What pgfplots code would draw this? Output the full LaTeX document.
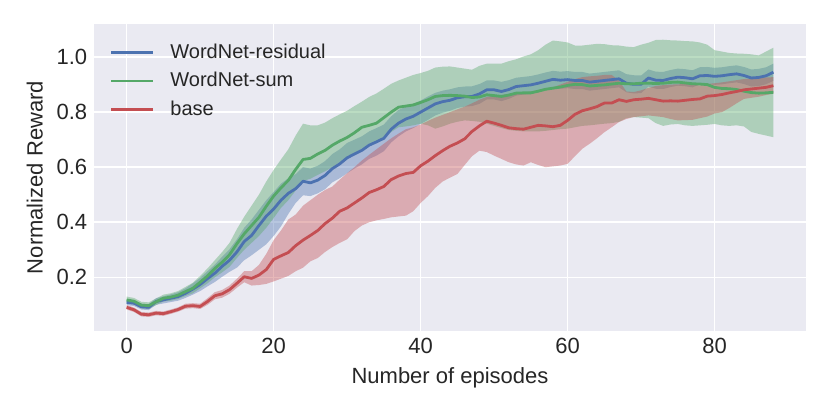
\documentclass[border=0pt]{standalone}
\usepackage{fontspec}
\setmainfont{Liberation Sans}
\usepackage{pgfplots}
\pgfplotsset{compat=1.18}
\usepackage{pgfplotstable}
\usepgfplotslibrary{fillbetween}
\definecolor{sbblue}{HTML}{4C72B0}
\definecolor{sbgreen}{HTML}{55A868}
\definecolor{sbred}{HTML}{C44E52}
\definecolor{sbbg}{HTML}{EAEAF2}
\definecolor{sbtext}{HTML}{262626}

\pgfplotstableread{
x m lo hi
0 0.109 0.099 0.120
1 0.106 0.096 0.117
2 0.093 0.083 0.104
3 0.091 0.081 0.102
4 0.112 0.100 0.124
5 0.118 0.105 0.131
6 0.124 0.110 0.138
7 0.130 0.115 0.146
8 0.142 0.125 0.160
9 0.157 0.137 0.178
10 0.174 0.150 0.198
11 0.195 0.167 0.222
12 0.215 0.183 0.246
13 0.240 0.202 0.275
14 0.262 0.220 0.302
15 0.292 0.235 0.338
16 0.330 0.262 0.380
17 0.352 0.280 0.410
18 0.388 0.300 0.445
19 0.422 0.320 0.480
20 0.448 0.350 0.510
21 0.480 0.385 0.540
22 0.505 0.430 0.560
23 0.522 0.470 0.575
24 0.549 0.498 0.600
25 0.543 0.495 0.595
26 0.553 0.505 0.605
27 0.570 0.520 0.622
28 0.595 0.545 0.648
29 0.612 0.560 0.665
30 0.634 0.578 0.688
31 0.648 0.595 0.700
32 0.661 0.610 0.712
33 0.680 0.630 0.730
34 0.692 0.642 0.742
35 0.705 0.658 0.755
36 0.738 0.690 0.785
37 0.760 0.712 0.808
38 0.775 0.730 0.820
39 0.785 0.742 0.830
40 0.800 0.757 0.842
41 0.815 0.772 0.857
42 0.830 0.788 0.870
43 0.838 0.798 0.878
44 0.843 0.805 0.883
45 0.852 0.815 0.890
46 0.856 0.820 0.893
47 0.857 0.822 0.894
48 0.866 0.830 0.902
49 0.881 0.846 0.915
50 0.881 0.846 0.915
51 0.875 0.840 0.910
52 0.882 0.848 0.916
53 0.893 0.860 0.925
54 0.896 0.864 0.928
55 0.899 0.867 0.931
56 0.905 0.874 0.937
57 0.912 0.881 0.944
58 0.919 0.888 0.950
59 0.916 0.885 0.947
60 0.918 0.887 0.949
61 0.915 0.884 0.946
62 0.915 0.884 0.946
63 0.909 0.878 0.940
64 0.912 0.881 0.943
65 0.915 0.884 0.946
66 0.918 0.887 0.949
67 0.921 0.890 0.952
68 0.905 0.872 0.938
69 0.901 0.868 0.934
70 0.901 0.869 0.933
71 0.924 0.893 0.955
72 0.916 0.885 0.947
73 0.915 0.884 0.946
74 0.922 0.891 0.953
75 0.927 0.896 0.958
76 0.925 0.894 0.956
77 0.921 0.890 0.952
78 0.932 0.901 0.963
79 0.933 0.902 0.964
80 0.930 0.899 0.961
81 0.932 0.901 0.963
82 0.936 0.905 0.967
83 0.939 0.908 0.970
84 0.933 0.902 0.964
85 0.924 0.893 0.955
86 0.926 0.895 0.957
87 0.932 0.901 0.963
88 0.945 0.914 0.976
}\tblblue

\pgfplotstableread{
x m lo hi
0 0.118 0.106 0.130
1 0.113 0.101 0.125
2 0.099 0.087 0.111
3 0.097 0.085 0.109
4 0.111 0.099 0.123
5 0.124 0.112 0.137
6 0.128 0.115 0.142
7 0.135 0.121 0.150
8 0.148 0.132 0.165
9 0.160 0.142 0.180
10 0.182 0.160 0.205
11 0.205 0.178 0.232
12 0.232 0.200 0.262
13 0.255 0.218 0.292
14 0.282 0.238 0.325
15 0.322 0.270 0.375
16 0.358 0.300 0.420
17 0.388 0.325 0.460
18 0.418 0.350 0.500
19 0.458 0.380 0.548
20 0.495 0.415 0.590
21 0.525 0.452 0.628
22 0.552 0.480 0.665
23 0.592 0.515 0.715
24 0.628 0.550 0.758
25 0.632 0.558 0.752
26 0.648 0.572 0.752
27 0.661 0.585 0.762
28 0.680 0.600 0.778
29 0.695 0.618 0.792
30 0.708 0.634 0.805
31 0.725 0.650 0.822
32 0.745 0.668 0.838
33 0.752 0.680 0.855
34 0.760 0.692 0.868
35 0.780 0.710 0.885
36 0.800 0.728 0.903
37 0.818 0.745 0.915
38 0.822 0.748 0.925
39 0.826 0.752 0.935
40 0.835 0.758 0.942
41 0.845 0.752 0.950
42 0.857 0.740 0.962
43 0.860 0.748 0.965
44 0.861 0.758 0.966
45 0.860 0.765 0.962
46 0.858 0.770 0.958
47 0.853 0.768 0.954
48 0.855 0.765 0.968
49 0.863 0.758 0.976
50 0.860 0.750 0.976
51 0.857 0.742 0.976
52 0.862 0.735 0.985
53 0.869 0.732 0.992
54 0.870 0.730 1.002
55 0.870 0.730 1.010
56 0.876 0.730 1.025
57 0.883 0.732 1.045
58 0.887 0.735 1.060
59 0.891 0.738 1.057
60 0.897 0.740 1.053
61 0.901 0.745 1.042
62 0.900 0.750 1.042
63 0.895 0.752 1.045
64 0.897 0.755 1.048
65 0.899 0.758 1.047
66 0.902 0.760 1.043
67 0.905 0.765 1.042
68 0.903 0.778 1.038
69 0.903 0.782 1.036
70 0.905 0.780 1.045
71 0.905 0.778 1.052
72 0.904 0.760 1.062
73 0.905 0.750 1.063
74 0.908 0.755 1.061
75 0.909 0.757 1.060
76 0.906 0.752 1.058
77 0.903 0.750 1.057
78 0.902 0.752 1.053
79 0.900 0.754 1.045
80 0.890 0.757 1.025
81 0.886 0.752 1.020
82 0.885 0.750 1.015
83 0.882 0.752 1.013
84 0.876 0.748 1.012
85 0.871 0.728 1.010
86 0.869 0.721 1.006
87 0.870 0.715 1.020
88 0.872 0.709 1.034
}\tblgreen

\pgfplotstableread{
x m lo hi
0 0.091 0.083 0.099
1 0.082 0.074 0.090
2 0.066 0.058 0.074
3 0.064 0.056 0.072
4 0.070 0.062 0.078
5 0.068 0.060 0.076
6 0.075 0.067 0.083
7 0.083 0.075 0.091
8 0.095 0.086 0.104
9 0.097 0.088 0.106
10 0.094 0.085 0.104
11 0.112 0.100 0.124
12 0.133 0.120 0.146
13 0.140 0.126 0.154
14 0.155 0.140 0.170
15 0.178 0.162 0.195
16 0.202 0.182 0.222
17 0.196 0.170 0.222
18 0.208 0.172 0.245
19 0.228 0.176 0.285
20 0.265 0.185 0.335
21 0.278 0.195 0.370
22 0.290 0.205 0.410
23 0.315 0.222 0.428
24 0.335 0.235 0.460
25 0.352 0.258 0.480
26 0.370 0.270 0.500
27 0.395 0.292 0.517
28 0.415 0.310 0.530
29 0.440 0.325 0.555
30 0.452 0.338 0.578
31 0.470 0.368 0.600
32 0.488 0.388 0.624
33 0.508 0.400 0.645
34 0.518 0.407 0.665
35 0.530 0.412 0.685
36 0.555 0.418 0.705
37 0.568 0.421 0.722
38 0.577 0.424 0.738
39 0.581 0.440 0.745
40 0.605 0.470 0.755
41 0.622 0.495 0.768
42 0.642 0.525 0.780
43 0.660 0.548 0.790
44 0.676 0.562 0.800
45 0.688 0.575 0.810
46 0.703 0.608 0.820
47 0.730 0.640 0.832
48 0.750 0.660 0.845
49 0.767 0.655 0.855
50 0.760 0.642 0.860
51 0.752 0.630 0.862
52 0.743 0.618 0.865
53 0.740 0.610 0.868
54 0.738 0.606 0.870
55 0.745 0.618 0.875
56 0.752 0.608 0.880
57 0.750 0.600 0.885
58 0.747 0.603 0.890
59 0.752 0.606 0.900
60 0.770 0.612 0.910
61 0.792 0.640 0.920
62 0.805 0.667 0.927
63 0.812 0.685 0.930
64 0.820 0.705 0.932
65 0.833 0.727 0.935
66 0.833 0.745 0.935
67 0.845 0.764 0.915
68 0.839 0.775 0.875
69 0.845 0.782 0.873
70 0.847 0.785 0.879
71 0.850 0.788 0.888
72 0.845 0.785 0.895
73 0.840 0.782 0.898
74 0.841 0.775 0.900
75 0.840 0.770 0.901
76 0.843 0.771 0.902
77 0.846 0.772 0.900
78 0.848 0.778 0.897
79 0.858 0.784 0.902
80 0.860 0.795 0.905
81 0.864 0.800 0.908
82 0.870 0.815 0.912
83 0.875 0.832 0.916
84 0.881 0.848 0.920
85 0.884 0.852 0.922
86 0.887 0.856 0.925
87 0.890 0.862 0.926
88 0.896 0.867 0.927
}\tblred

\begin{document}
\begin{tikzpicture}
\begin{axis}[
  scale only axis,
  width=355.7pt, height=153.2pt,
  xmin=-4.4, xmax=92.4, ymin=0.006, ymax=1.119,
  axis background/.style={fill=sbbg},
  axis line style={draw=none},
  grid=major,
  major grid style={white, line width=0.8pt},
  major tick length=0pt,
  xtick={0,20,40,60,80},
  ytick={0.2,0.4,0.6,0.8,1.0},
  y tick label style={/pgf/number format/fixed, /pgf/number format/fixed zerofill, /pgf/number format/precision=1},
  /pgf/number format/assume math mode=true,
  tick label style={font=\fontsize{11}{13}\selectfont, text=sbtext},
  label style={font=\fontsize{11}{13}\selectfont, text=sbtext},
  xlabel={Number of episodes},
  ylabel={Normalized Reward},
  legend style={at={(axis description cs:0,1)}, anchor=north west, xshift=4.5pt, yshift=-5.5pt,
    draw=none, fill=none, font=\fontsize{10}{12}\selectfont, text=sbtext,
    row sep=1.5pt, /tikz/every odd column/.append style={column sep=6pt}},
  legend cell align=left,
  legend image code/.code={\draw[#1, line width=1.35pt] (0pt,0pt) -- (21pt,0pt);},
]
% bands
\addplot[draw=none, name path=bh, forget plot] table[x=x,y=hi]{\tblblue};
\addplot[draw=none, name path=bl, forget plot] table[x=x,y=lo]{\tblblue};
\addplot[fill=sbblue, fill opacity=0.4, draw=none, forget plot] fill between[of=bh and bl];
\addplot[draw=none, name path=gh, forget plot] table[x=x,y=hi]{\tblgreen};
\addplot[draw=none, name path=gl, forget plot] table[x=x,y=lo]{\tblgreen};
\addplot[fill=sbgreen, fill opacity=0.4, draw=none, forget plot] fill between[of=gh and gl];
\addplot[draw=none, name path=rh, forget plot] table[x=x,y=hi]{\tblred};
\addplot[draw=none, name path=rl, forget plot] table[x=x,y=lo]{\tblred};
\addplot[fill=sbred, fill opacity=0.4, draw=none, forget plot] fill between[of=rh and rl];
% lines
\addplot[sbblue, line width=1.4pt, line join=round] table[x=x,y=m]{\tblblue};
\addlegendentry{WordNet-residual}
\addplot[sbgreen, line width=1.4pt, line join=round] table[x=x,y=m]{\tblgreen};
\addlegendentry{WordNet-sum}
\addplot[sbred, line width=1.4pt, line join=round] table[x=x,y=m]{\tblred};
\addlegendentry{base}
\end{axis}
\pgfresetboundingbox
\path[use as bounding box] ([shift={(-47.15pt,-42.15pt)}]current axis.south west) rectangle ([shift={(12.15pt,12.15pt)}]current axis.north east);
\end{tikzpicture}
\end{document}
